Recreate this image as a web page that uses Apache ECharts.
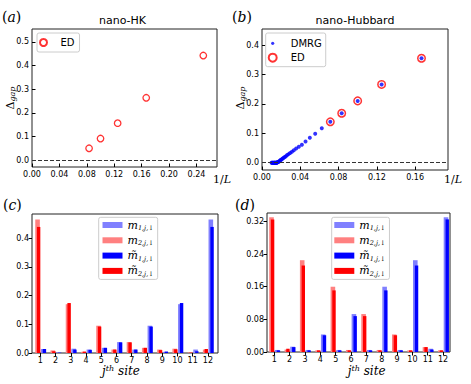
<!DOCTYPE html>
<html><head><meta charset="utf-8">
<script src="https://cdn.jsdelivr.net/npm/echarts@6/dist/echarts.min.js"></script>
<style>html,body{margin:0;padding:0;background:#fff}#c{width:471px;height:384px}</style>
</head><body><div id="c"></div>
<script>
// ---------- data ----------
// (a) nano-HK, ED
const hkInvL = [0.0833, 0.1, 0.125, 0.1667, 0.25];
const hkGapED = [0.051, 0.092, 0.157, 0.264, 0.442];
// (b) nano-Hubbard
const hubInvLED = [0.0714, 0.0833, 0.1, 0.125, 0.1667];
const hubGapED = [0.139, 0.168, 0.210, 0.266, 0.355];
const hubInvLDMRG = [0.1667, 0.125, 0.1, 0.0833, 0.0714, 0.0625, 0.0556, 0.05, 0.0455, 0.0417,
  0.0385, 0.0357, 0.0333, 0.0313, 0.0294, 0.0278, 0.0263, 0.025, 0.0238, 0.0227,
  0.0217, 0.0208, 0.02, 0.0192, 0.0185, 0.0179, 0.0172, 0.0167, 0.0161,
  0.0156, 0.0152, 0.0147, 0.0143, 0.0139, 0.0135, 0.0132, 0.0128, 0.0125, 0.0119, 0.0114, 0.0109, 0.0104, 0.01];
const hubGapDMRG = [0.355, 0.266, 0.210, 0.168, 0.139, 0.117, 0.098, 0.085, 0.072, 0.061,
  0.054, 0.048, 0.042, 0.037, 0.033, 0.029, 0.026, 0.022, 0.019, 0.017,
  0.014, 0.012, 0.010, 0.008, 0.006, 0.004, 0.003, 0.002, 0.001,
  0, 0, 0, 0, 0, 0, 0, 0, 0, 0, 0, 0, 0, 0];
// (c),(d) sites
const sites = [1, 2, 3, 4, 5, 6, 7, 8, 9, 10, 11, 12];
const cM1  = [0.014, 0.002, 0.015, 0.012, 0.018, 0.038, 0.012, 0.095, 0.004, 0.170, 0.012, 0.465];
const cM2  = [0.465, 0.009, 0.170, 0.004, 0.095, 0.012, 0.038, 0.018, 0.012, 0.015, 0.002, 0.012];
const cMt1 = [0.014, 0.001, 0.012, 0.011, 0.018, 0.037, 0.012, 0.092, 0.005, 0.174, 0.006, 0.439];
const cMt2 = [0.439, 0.006, 0.174, 0.005, 0.092, 0.012, 0.037, 0.018, 0.010, 0.013, 0.001, 0.014];
const dM1  = [0.005, 0.013, 0.005, 0.043, 0.005, 0.093, 0.005, 0.160, 0.005, 0.225, 0.008, 0.330];
const dM2  = [0.330, 0.006, 0.225, 0.004, 0.160, 0.005, 0.093, 0.005, 0.043, 0.004, 0.012, 0.004];
const dMt1 = [0.004, 0.012, 0.004, 0.041, 0.004, 0.088, 0.004, 0.151, 0.004, 0.212, 0.006, 0.325];
const dMt2 = [0.325, 0.008, 0.212, 0.004, 0.151, 0.004, 0.088, 0.004, 0.041, 0.004, 0.012, 0.004];
// tick values
const xTicksA = [0, 0.04, 0.08, 0.12, 0.16, 0.20, 0.24];
const yTicksA = [0, 0.1, 0.2, 0.3, 0.4, 0.5];
const xTicksB = [0, 0.04, 0.08, 0.12, 0.16];
const yTicksB = [0, 0.1, 0.2, 0.3, 0.4];
const yTicksC = [0, 0.1, 0.2, 0.3, 0.4];
const yTicksD = [0, 0.08, 0.16, 0.24, 0.32];

// ---------- styling ----------
const SANS = 'DejaVu Sans', SERIF = 'DejaVu Serif';
const OFF = { m1: 0.15, m2: -0.22, mt1: 0.27, mt2: -0.11 };   // bar offsets within a site
const BW = { m1: 4.6, m2: 4.6, mt1: 3.4, mt2: 3.4 };
const COL = { m1: '#8080ff', m2: '#ff8080', mt1: '#0000ff', mt2: '#ff0000' };

const chart = echarts.init(document.getElementById('c'), null, { renderer: 'svg', width: 471, height: 384 });

function pairs(xs, ys) { return xs.map((x, i) => [x, ys[i]]); }
function axis(gi, min, max, ticks, fmt, inside) {
  return {
    gridIndex: gi, type: 'value', min: min, max: max,
    axisLine: { show: false, onZero: false },
    splitLine: { show: false },
    axisTick: { show: true, inside: inside, length: 3.5, customValues: ticks, lineStyle: { color: '#000', width: 1 } },
    axisLabel: { customValues: ticks, formatter: fmt, fontSize: 8, fontFamily: SANS, color: '#000', margin: 3 }
  };
}
const f1 = v => v.toFixed(1), f2 = v => v.toFixed(2), fi = v => String(Math.round(v));

const zeroLine = {
  silent: true, symbol: ['none', 'none'], label: { show: false },
  lineStyle: { color: '#333', type: [4, 2], width: 1.1 },
  data: [{ yAxis: 0 }]
};

function barSeries(key, panel, gi, vals) {
  return {
    name: key + '_' + panel, type: 'bar', xAxisIndex: gi, yAxisIndex: gi,
    data: sites.map((s, i) => [s + OFF[key], vals[i]]),
    barWidth: BW[key], barGap: '-100%',
    itemStyle: { color: COL[key] }
  };
}

const legRich = {
  m: { fontFamily: SERIF, fontStyle: 'italic', fontSize: 11, lineHeight: 13, verticalAlign: 'middle', color: '#000' },
  s: { fontFamily: SERIF, fontStyle: 'italic', fontSize: 6.5, lineHeight: 7, verticalAlign: 'bottom', color: '#000' }
};
const legText = {
  m1: '{m|m}{s|1,j,↓}', m2: '{m|m}{s|2,j,↓}',
  mt1: '{m|m\u0303}{s|1,j,↓}', mt2: '{m|m\u0303}{s|2,j,↓}'
};
function barLegend(panel, left, padL) {
  return {
    orient: 'vertical', left: left, top: 217.3, padding: [1.2, 4, 2, padL],
    itemWidth: 20, itemHeight: 6, itemGap: 2.3, icon: 'rect',
    backgroundColor: 'rgba(255,255,255,0.8)', borderColor: '#cccccc', borderWidth: 1, borderRadius: 2,
    data: ['m1', 'm2', 'mt1', 'mt2'].map(k => k + '_' + panel),
    formatter: n => legText[n.split('_')[0]],
    textStyle: { lineHeight: 13, rich: legRich },
    selectedMode: false
  };
}

const gapRich = {
  d: { fontFamily: SERIF, fontSize: 11, lineHeight: 13, verticalAlign: 'middle', fill: '#000' },
  g: { fontFamily: SERIF, fontStyle: 'italic', fontSize: 8, lineHeight: 8, verticalAlign: 'bottom', fill: '#000' }
};
const invRich = {
  n: { fontFamily: SERIF, fontSize: 11, fill: '#000' },
  i: { fontFamily: SERIF, fontStyle: 'italic', fontSize: 11, fill: '#000' }
};
const siteRich = {
  j: { fontFamily: SERIF, fontStyle: 'italic', fontSize: 12, lineHeight: 14, verticalAlign: 'middle', fill: '#000' },
  t: { fontFamily: SERIF, fontStyle: 'italic', fontSize: 8, lineHeight: 8, verticalAlign: 'top', fill: '#000' }
};
const panRich = {
  p: { fontFamily: SERIF, fontSize: 14, fill: '#000' },
  i: { fontFamily: SERIF, fontStyle: 'italic', fontSize: 14, fill: '#000' }
};
function txt(x, y, text, opts) {
  return Object.assign({ type: 'text', x: x, y: y, silent: true,
    style: Object.assign({ text: text, fill: '#000' }, opts) });
}

const option = {
  animation: false,
  backgroundColor: '#fff',
  textStyle: { fontFamily: SANS },
  grid: [
    { left: 32, top: 29, width: 185, height: 138 },
    { left: 262, top: 29, width: 186, height: 141 },
    { left: 32, top: 214, width: 186, height: 139 },
    { left: 267, top: 213, width: 183, height: 139 }
  ].map(g => Object.assign(g, { show: true, borderColor: '#222', borderWidth: 1, backgroundColor: 'transparent', containLabel: false })),
  xAxis: [
    axis(0, 0, 0.27, xTicksA, f2, true),
    axis(1, 0, 0.1944, xTicksB, f2, true),
    axis(2, 0.455, 12.66, sites, fi, false),
    axis(3, 0.525, 12.45, sites, fi, false)
  ],
  yAxis: [
    axis(0, -0.028, 0.554, yTicksA, f1, true),
    axis(1, -0.025, 0.4545, yTicksB, f1, true),
    axis(2, 0, 0.484, yTicksC, f1, false),
    axis(3, 0, 0.3407, yTicksD, f2, false)
  ],
  legend: [
    { orient: 'vertical', left: 37, top: 33, padding: [4, 5, 4, 2], itemWidth: 24, itemHeight: 7,
      backgroundColor: 'rgba(255,255,255,0.8)', borderColor: '#cccccc', borderWidth: 1, borderRadius: 2,
      data: ['ED_a'], formatter: () => 'ED', selectedMode: false,
      textStyle: { fontSize: 10, fontFamily: SANS, color: '#000', lineHeight: 11 } },
    { orient: 'vertical', left: 265.7, top: 33, padding: [4.3, 4, 3, 2], itemWidth: 26, itemHeight: 8, itemGap: 2.4,
      backgroundColor: 'rgba(255,255,255,0.8)', borderColor: '#cccccc', borderWidth: 1, borderRadius: 2,
      data: [{ name: 'DMRG_b', icon: 'path://M0,0M10,10M3,5a2,2 0 1,0 4,0a2,2 0 1,0 -4,0' }, 'ED_b'],
      formatter: n => n.split('_')[0], selectedMode: false,
      textStyle: { fontSize: 10, fontFamily: SANS, color: '#000', lineHeight: 12 } },
    barLegend('c', 98.7, 3.8),
    barLegend('d', 331.7, 2.6)
  ],
  series: [
    { name: 'ED_a', type: 'scatter', xAxisIndex: 0, yAxisIndex: 0, data: pairs(hkInvL, hkGapED),
      symbol: 'circle', symbolSize: 6.5,
      itemStyle: { color: 'rgba(255,255,255,0)', borderColor: '#ff0000', borderWidth: 1.3 },
      markLine: zeroLine },
    { name: 'DMRG_b', type: 'scatter', xAxisIndex: 1, yAxisIndex: 1, data: pairs(hubInvLDMRG, hubGapDMRG),
      symbol: 'circle', symbolSize: 4, itemStyle: { color: '#0000ff' }, markLine: zeroLine },
    { name: 'ED_b', type: 'scatter', xAxisIndex: 1, yAxisIndex: 1, data: pairs(hubInvLED, hubGapED),
      symbol: 'circle', symbolSize: 7.5,
      itemStyle: { color: 'rgba(255,255,255,0)', borderColor: '#ff0000', borderWidth: 1.5 } },
    barSeries('m1', 'c', 2, cM1), barSeries('m2', 'c', 2, cM2), barSeries('mt1', 'c', 2, cMt1), barSeries('mt2', 'c', 2, cMt2),
    barSeries('m1', 'd', 3, dM1), barSeries('m2', 'd', 3, dM2), barSeries('mt1', 'd', 3, dMt1), barSeries('mt2', 'd', 3, dMt2)
  ],
  graphic: [
    txt(2, 17, '{p|(}{i|a}{p|)}', { verticalAlign: 'middle', rich: panRich }),
    txt(232, 17, '{p|(}{i|b}{p|)}', { verticalAlign: 'middle', rich: panRich }),
    txt(3, 204.5, '{p|(}{i|c}{p|)}', { verticalAlign: 'middle', rich: panRich }),
    txt(235, 204.5, '{p|(}{i|d}{p|)}', { verticalAlign: 'middle', rich: panRich }),
    txt(122.5, 20, 'nano-HK', { align: 'center', verticalAlign: 'middle', fontSize: 11, fontFamily: SANS }),
    txt(355, 20, 'nano-Hubbard', { align: 'center', verticalAlign: 'middle', fontSize: 11, fontFamily: SANS }),
    txt(213, 179, '{n|1/}{i|L}', { verticalAlign: 'middle', rich: invRich }),
    txt(444, 179, '{n|1/}{i|L}', { verticalAlign: 'middle', rich: invRich }),
    Object.assign(txt(10, 98, '{d|Δ}{g|gap}', { align: 'center', verticalAlign: 'middle', rich: gapRich }), { rotation: Math.PI / 2 }),
    Object.assign(txt(240, 98, '{d|Δ}{g|gap}', { align: 'center', verticalAlign: 'middle', rich: gapRich }), { rotation: Math.PI / 2 }),
    txt(121, 371, '{j|j}{t|th}{j| site}', { align: 'center', verticalAlign: 'middle', rich: siteRich }),
    txt(366.7, 371, '{j|j}{t|th}{j| site}', { align: 'center', verticalAlign: 'middle', rich: siteRich })
  ]
};
chart.setOption(option);
</script>
</body></html>
